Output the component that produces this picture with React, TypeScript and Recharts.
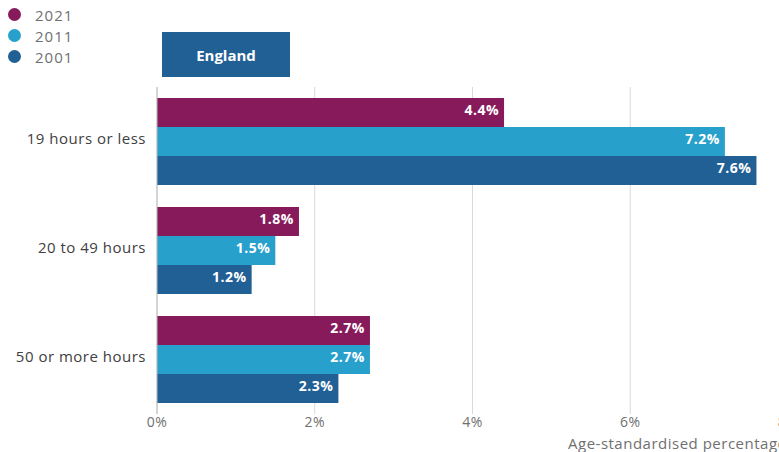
import { Bar, BarChart, CartesianGrid, LabelList, XAxis, YAxis } from "recharts";

// Hours of unpaid care, age-standardised %
const categories = ["19 hours or less", "20 to 49 hours", "50 or more hours"];
const values2021 = [4.4, 1.8, 2.7];
const values2011 = [7.2, 1.5, 2.7];
const values2001 = [7.6, 1.2, 2.3];
const xTicks = [0, 2, 4, 6, 8];

const series = [
    { key: "y2021", name: "2021", color: "#871A5B" },
    { key: "y2011", name: "2011", color: "#27A0CC" },
    { key: "y2001", name: "2001", color: "#206095" },
];

const data = categories.map((name, i) => ({
    name,
    y2021: values2021[i],
    y2011: values2011[i],
    y2001: values2001[i],
}));

const font = "'Open Sans', sans-serif";

export default function App()
{
    return (
        <div
            style={{
                position: "absolute",
                left: 0,
                top: 0,
                width: 779,
                height: 452,
                overflow: "hidden",
                background: "#fff",
                fontFamily: font,
            }}
        >
            {/* legend */}
            <div style={{ position: "absolute", left: 8, top: 4 }}>
                {series.map((s) => (
                    <div key={s.key} style={{ display: "flex", alignItems: "center", height: 21 }}>
                        <span
                            style={{
                                width: 13,
                                height: 13,
                                borderRadius: "50%",
                                background: s.color,
                                display: "inline-block",
                            }}
                        />
                        <span style={{ marginLeft: 14, fontSize: 15, letterSpacing: 1, color: "#707070" }}>
                            {s.name}
                        </span>
                    </div>
                ))}
            </div>

            {/* area selector */}
            <div
                style={{
                    position: "absolute",
                    left: 162,
                    top: 32,
                    width: 128,
                    height: 45,
                    background: "#206095",
                    color: "#fff",
                    fontWeight: 700,
                    fontSize: 15,
                    display: "flex",
                    alignItems: "center",
                    justifyContent: "center",
                }}
            >
                England
            </div>

            <div style={{ position: "absolute", left: 0, top: 0 }}>
                <BarChart
                    width={800}
                    height={452}
                    data={data}
                    layout="vertical"
                    margin={{ top: 87, right: 12, bottom: 8, left: 0 }}
                    barCategoryGap="10%"
                    barGap={0}
                >
                    <CartesianGrid horizontal={false} stroke="#d9d9d9" />
                    <XAxis
                        type="number"
                        domain={[0, 8]}
                        ticks={xTicks}
                        tickFormatter={(v) => `${v}%`}
                        axisLine={false}
                        tickSize={0}
                        tickMargin={3}
                        height={30}
                        tick={{ fill: "#707070", fontSize: 14, fontFamily: font, letterSpacing: 0.5 }}
                    />
                    <YAxis
                        type="category"
                        dataKey="name"
                        width={157}
                        axisLine={{ stroke: "#bdbdbd" }}
                        tickSize={0}
                        tickMargin={11}
                        tick={{ fill: "#414042", fontSize: 15, fontFamily: font, letterSpacing: 0.5, dy: -3 }}
                    />
                    {series.map((s) => (
                        <Bar
                            key={s.key}
                            dataKey={s.key}
                            name={s.name}
                            fill={s.color}
                            isAnimationActive={false}
                        >
                            <LabelList
                                dataKey={s.key}
                                position="insideRight"
                                offset={5}
                                dy={-2}
                                formatter={(v: number) => `${v}%`}
                                fill="#fff"
                                style={{ fontWeight: 700, fontSize: 14, fontFamily: font, letterSpacing: 0.5 }}
                            />
                        </Bar>
                    ))}
                </BarChart>
            </div>

            <div
                style={{
                    position: "absolute",
                    left: 568,
                    top: 434,
                    fontSize: 15,
                    lineHeight: "18px",
                    letterSpacing: 0.5,
                    color: "#707070",
                    whiteSpace: "nowrap",
                }}
            >
                Age-standardised percentage
            </div>
        </div>
    );
}
